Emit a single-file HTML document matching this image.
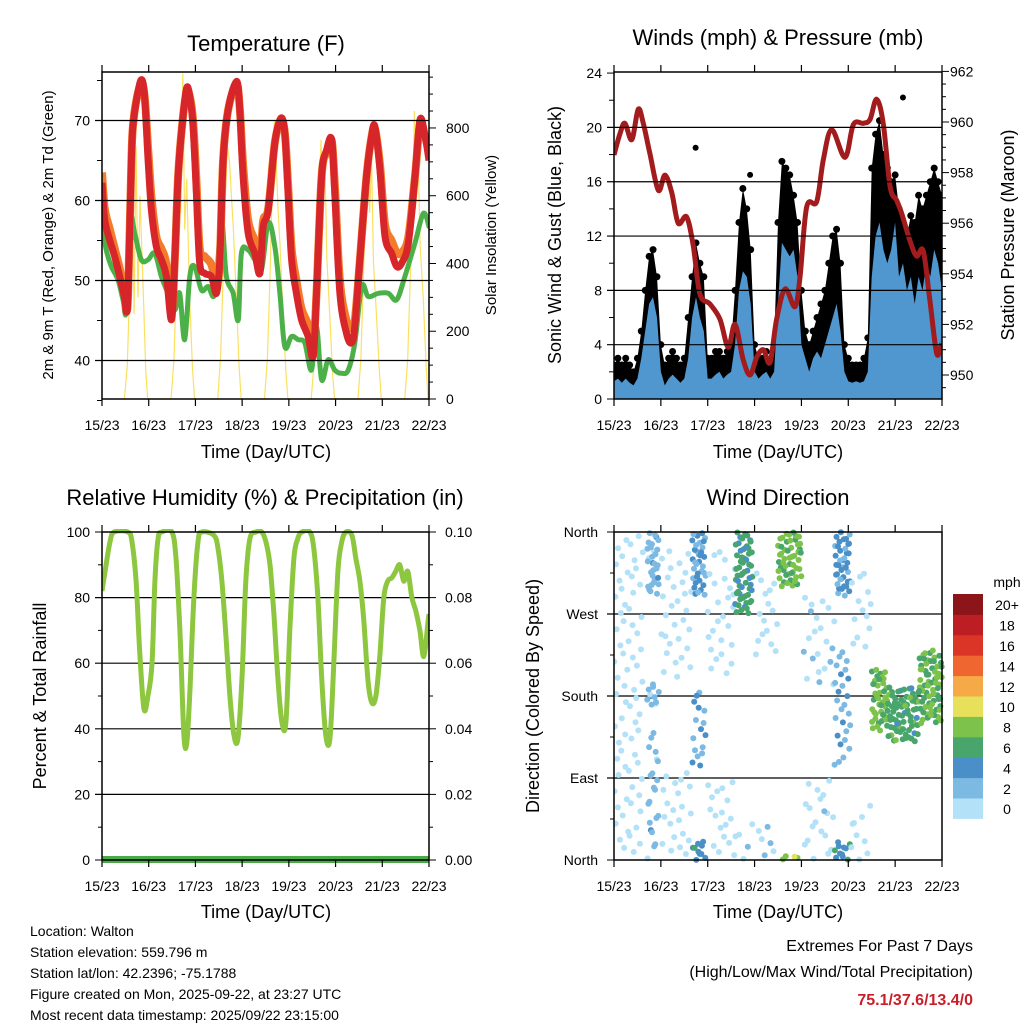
<!DOCTYPE html>
<html><head><meta charset="utf-8">
<style>
html,body{margin:0;padding:0;background:#fff;}
svg{display:block;font-family:"Liberation Sans",Arial,sans-serif;}
</style></head>
<body>
<svg id="chart" width="1024" height="1024" viewBox="0 0 1024 1024" xmlns="http://www.w3.org/2000/svg">
<rect width="1024" height="1024" fill="#fff"/>
<g id="g1"></g>
<g id="g2"></g>
<g id="g3"></g>
<g id="g4"></g>
<g id="gt">
<text x="266" y="51" font-size="22" text-anchor="middle">Temperature (F)</text>
<text transform="translate(53,235) rotate(-90)" font-size="15" text-anchor="middle">2m &amp; 9m T (Red, Orange) &amp; 2m Td (Green)</text>
<text transform="translate(496,235) rotate(-90)" font-size="15" text-anchor="middle">Solar Insolation (Yellow)</text>
<text x="266" y="458" font-size="18" text-anchor="middle">Time (Day/UTC)</text>
<text x="778" y="45" font-size="22" text-anchor="middle">Winds (mph) &amp; Pressure (mb)</text>
<text transform="translate(561,235) rotate(-90)" font-size="18" text-anchor="middle">Sonic Wind &amp; Gust (Blue, Black)</text>
<text transform="translate(1014,235) rotate(-90)" font-size="18" text-anchor="middle">Station Pressure (Maroon)</text>
<text x="778" y="458" font-size="18" text-anchor="middle">Time (Day/UTC)</text>
<text x="265" y="505" font-size="22" text-anchor="middle">Relative Humidity (%) &amp; Precipitation (in)</text>
<text transform="translate(46,696) rotate(-90)" font-size="18" text-anchor="middle">Percent &amp; Total Rainfall</text>
<text x="266" y="918" font-size="18" text-anchor="middle">Time (Day/UTC)</text>
<text x="778" y="505" font-size="22" text-anchor="middle">Wind Direction</text>
<text transform="translate(539,696) rotate(-90)" font-size="18" text-anchor="middle">Direction (Colored By Speed)</text>
<text x="778" y="918" font-size="18" text-anchor="middle">Time (Day/UTC)</text>
<text x="1007" y="587" font-size="14" text-anchor="middle">mph</text>
<g font-size="14">
<text x="30" y="936">Location: Walton</text>
<text x="30" y="957">Station elevation: 559.796 m</text>
<text x="30" y="978">Station lat/lon: 42.2396; -75.1788</text>
<text x="30" y="999">Figure created on Mon, 2025-09-22, at 23:27 UTC</text>
<text x="30" y="1020">Most recent data timestamp: 2025/09/22 23:15:00</text>
</g>
<text x="973" y="951" font-size="16" text-anchor="end">Extremes For Past 7 Days</text>
<text x="973" y="977" font-size="16" text-anchor="end">(High/Low/Max Wind/Total Precipitation)</text>
<text x="973" y="1005" font-size="16" font-weight="bold" fill="#c8202a" text-anchor="end">75.1/37.6/13.4/0</text>
</g>
</svg>
<script>
// ---------- DATA ----------
const dayLabels = ["15/23","16/23","17/23","18/23","19/23","20/23","21/23","22/23"];
const tempHours = [0,1.4,3.9,6.5,9.1,11.7,12.5,13.4,15.1,15.9,17.7,20.2,21.9,23.7,25.4,27.9,30.5,33.1,35.7,37.4,39.1,41.1,43.4,45.1,46.8,48.5,50.2,52.8,56.2,58.8,60.5,62.2,64.8,69.1,70.8,72.5,75.1,78.5,81.1,82.8,85.4,88.8,91.9,93.9,95.6,97.4,99.9,102.5,105.9,108.5,110.2,112.8,115.4,118,119.6,122.2,125.6,128.2,129.9,132.5,135.9,138.5,140.2,142.8,145.4,148.8,151.4,154,157.4,160.8,163.4,166,168];
const temp2m = [62.2,57.6,55.1,53,50.5,47.6,46.1,48.4,65,69.25,72.6,75.1,73,65,58.8,54.25,52.6,50.5,45.1,52.6,63,69.25,74,73,69.25,60.9,52.2,50.9,50.5,48.4,52.6,65,71.3,74.9,71.3,63,55.9,53.4,50.9,56.75,58.8,67.2,70.3,68.4,60.9,52.6,48.4,45.1,43,40.5,48.4,63,66.3,67.6,60.9,48.4,43.4,42.2,44.25,52.6,63,68,69.25,63.8,55.5,53.4,51.75,52.2,54.7,63,70.1,68,65];
const temp9m = [63.5,59,56.5,54,51.5,48,46.5,48.4,65,69.25,72.6,74.5,73,66.5,60.5,55.5,54,52,46,52.6,63,69.25,73.5,73,70,62.5,54,53,52,49.5,52.6,65,71.3,74.5,71.5,64.5,57.5,55,52.5,57.5,59,67.2,70,68.5,62,54,50,46.5,44.5,42,48.4,63,66,67.5,62,50,45,44,45,52.6,63,68,69,64.5,57,55,53.5,53.5,55.5,63,69.5,68,66];
const dewHours = [0,2.2,4.8,8.2,10.8,12.5,14.2,16.8,20.2,23.7,27.1,30.5,33.9,37.4,39.9,42.5,45.1,47.6,51.1,54.5,58,61.4,63.9,67.4,70,71.6,75.1,78.5,81.9,85.4,88.8,91.4,93.9,97.4,100.8,104.2,107.6,110.2,112.8,116.2,119.6,123.1,126.5,129.9,133.4,136.8,142,147.1,151.4,155.6,160.8,165.1,168];
const dewpoint = [56.75,53.8,51.75,50.1,47.6,46.3,58,55.9,52.6,52.6,53.4,50.5,48.4,46.3,48.4,42.6,50.5,51.75,48.8,49.25,48.4,57.2,50.5,48.4,45.1,53.4,53.8,52.6,51.3,57.2,54.25,48.4,41.75,43,42.6,42.2,38.8,44.25,37.6,40.1,38.8,38.4,38.8,42.2,49.25,48,48.4,48.4,47.6,50.5,54.7,58.4,56.75];
const solarHours = [11.5,13,14.5,15.5,16.5,17.5,18.5,19.5,21,22.5,23.5, 35.5,37,38.5,39.5,40.5,41.5,42.5,43.5,45,46.5,47.5, 59.5,61,62.5,63.5,64.5,65.5,66.5,67.5,69,70.5,71.5, 83.5,85,86.5,87.5,88.5,89.5,90.5,91.5,93,94.5,95.5, 107.5,109,110.5,111.5,112.5,113.5,114.5,115.5,117,118.5,119.5, 131.5,133,134.5,135.5,136.5,137.5,138.5,139.5,141,142.5,143.5, 155.5,157,158.5,159.5,160.5,161.5,162.5,163.5,165,166.5,167.5];
const solar = [0,100,380,650,250,745,300,600,350,80,0, 0,120,400,600,550,960,500,650,300,90,0, 0,130,420,620,745,700,600,500,300,90,0, 0,120,400,650,823,700,550,450,250,80,0, 0,110,380,600,765,500,700,420,250,70,0, 0,120,400,620,765,550,700,400,250,80,0, 0,110,380,560,850,587,700,450,300,100,0];

const windHours = [0,2,4,6,8,10,12,14,16,18,20,22,24,26,28,30,32,34,36,38,40,42,44,46,48,50,52,54,56,58,60,62,64,66,68,70,72,74,76,78,80,82,84,86,88,90,92,94,96,98,100,102,104,106,108,110,112,114,116,118,120,122,124,126,128,130,132,134,136,138,140,142,144,146,148,150,152,154,156,158,160,162,164,166,168];
const windMean = [1.3,1.5,1.2,1.5,1.2,1.0,1.5,3,5,7,7.5,6,2,1.0,1.5,1.8,1.5,1.2,1.5,3,6,7.5,6,5,1.5,1.5,1.8,2,1.5,1.8,2,4,8,9.4,9,7,2,1.5,1.8,2,1.5,2,7,11.5,11,10.5,11,9,4,3,2,3,3.5,3,4,5,6,7,5,2,1.3,1.2,1.3,1.2,1.3,2,9,12,13,11,10,11,13,9,10,8,9,7,9,8,10,9,11,10,8];
const windGust = [2.5,3,2.5,3,2.5,2,3,5,8,10.5,11,9,4,2.5,3,3.5,3,2.5,3,6,9,11.5,10,9,3,3,3.5,3.5,3,3.5,4,8,13,15.5,14,11,4,3,3,3.5,2.5,4,13,17.5,17,16.5,15,13,8,5,4,5,6,7,8,10,12,12.5,10,4,3,2.5,2.5,2.5,3,4.5,17,19.5,20.5,18,17,16,16.5,14,13,12,13.5,13,15,14,15,16,17,16,15];
const gustOutlierHours = [41.8,69.7,148];
const gustOutlierValues = [18.5,16.5,22.2];
const pressHours = [0,3.1,5.6,9.1,12.4,15,18.4,22.7,26.1,29.6,32.9,37.2,40.6,44,49.2,54.3,58.5,62,66.2,69.7,73.1,76.5,79.9,83.3,87.6,92.7,95.3,98.7,103.8,107.2,111.5,118.3,122.6,127.7,131.1,134.5,137.9,141.4,144.8,147.3,151.6,155,158.4,161.8,165.3,167.8];
const pressure = [958.7,959.55,959.95,959.3,960.5,959.95,958.75,957.3,957.9,957.2,956,956.25,955.1,953.2,952.8,952.2,951.1,952,950.6,950,950.7,951,950.5,952.2,953.4,952.7,953.9,956.65,956.85,958.5,959.7,958.6,959.9,959.95,960.1,960.9,959.95,957.45,956.9,956.4,955.3,954.7,954.9,952.95,950.85,951.25];

const rhHours = [0,2.1,4.1,6.2,13.3,15.4,17.5,19.5,21.6,23.6,25.7,27.2,28.8,30.8,35.9,38,40,42.1,43.6,45.2,47.2,49.3,51.3,57.5,59.6,61.6,63.7,65.7,67.8,69.8,71.9,73.9,76,79.1,82.1,84.2,86.3,88.3,90.4,92.4,94.5,96.5,98.6,100.6,102.7,106.8,108.8,110.9,112.9,115,117.1,119.1,121.2,123.2,125.3,128.4,130.4,132.5,134.5,136.6,138.6,140.7,142.7,144.8,146.8,148.9,150.9,153,155,157.1,159.2,161.2,163.3,165.3,167.4,168];
const rh = [82,90,97,100,100,97,85,62,46,50,60,85,98,100,100,92,70,38,36,52,80,97,100,99,95,85,68,50,38,37,55,85,98,100,100,97,90,75,55,42,42,70,92,98,100,100,95,80,55,38,37,60,88,97,100,99,92,85,73,55,48,50,62,80,85,86,88,90,85,88,80,76,70,62,72,75];
const precipHours = [0,168];
const precip = [0,0];

const dirClusterStart = [0,17,17,17,24,24,40,40,40,48,48,62,62,72,72,84,84,97,97,113,113,113,121,121,132,140,156];
const dirClusterEnd   = [15,23,23,23,40,40,47,47,47,62,62,71,71,84,84,96,96,113,113,121,121,121,132,132,140,156,168];
const dirClusterLow   = [0,0,290,170,200,0,290,100,0,200,0,270,0,220,0,300,0,190,0,290,100,0,230,0,140,130,150];
const dirClusterHigh  = [360,140,360,195,340,100,360,190,20,340,90,360,40,320,40,360,5,290,90,360,230,20,320,60,210,190,230];
const dirClusterSpeed = [0.5,3,3,3,0.8,0.8,4,4,5,0.8,0.8,6.5,1,1,1.5,8.5,9.5,1.5,1,4.5,3.5,5.5,0.8,0.8,8.5,7,8];
const speedBins = ["0","2","4","6","8","10","12","14","16","18","20+"];
const speedColors = ["#b3e1f7","#7cb9e3","#4a8fc7","#48a56c","#7dc24a","#e6e05a","#f6aa47","#ef6630","#db3528","#bc1e24","#8c1519"];

const tempTicks = [40,50,60,70], solarTicks = [0,200,400,600,800];
const windTicks = [0,4,8,12,16,20,24], pressTicks = [950,952,954,956,958,960,962];
const rhTicks = [0,20,40,60,80,100], precipTicks = ["0.00","0.02","0.04","0.06","0.08","0.10"];
const dirTicks = [0,90,180,270,360], dirLabels = ["North","East","South","West","North"];

// ---------- helpers ----------
const NS = "http://www.w3.org/2000/svg";
function mk(parent, tag, attrs){ const e=document.createElementNS(NS,tag); for(const k in attrs) e.setAttribute(k,attrs[k]); parent.appendChild(e); return e; }
function txt(parent, x, y, s, anchor, size){ const e=mk(parent,"text",{x:x,y:y,"text-anchor":anchor,"font-size":size||14}); e.textContent=s; return e; }
function pathFrom(xs, ys){ let d=""; for(let i=0;i<xs.length;i++) d+=(i?"L":"M")+xs[i].toFixed(1)+","+ys[i].toFixed(1); return d; }
function smoothFrom(xs, ys){
  let d="M"+xs[0].toFixed(1)+","+ys[0].toFixed(1);
  for(let i=0;i<xs.length-1;i++){
    const x0=xs[Math.max(0,i-1)],y0=ys[Math.max(0,i-1)],x1=xs[i],y1=ys[i],x2=xs[i+1],y2=ys[i+1],x3=xs[Math.min(xs.length-1,i+2)],y3=ys[Math.min(xs.length-1,i+2)];
    const c1x=x1+(x2-x0)/6,c1y=y1+(y2-y0)/6,c2x=x2-(x3-x1)/6,c2y=y2-(y3-y1)/6;
    d+="C"+c1x.toFixed(1)+","+c1y.toFixed(1)+" "+c2x.toFixed(1)+","+c2y.toFixed(1)+" "+x2.toFixed(1)+","+y2.toFixed(1);
  }
  return d;
}
function halton(i,b){ let f=1,r=0; while(i>0){ f/=b; r+=f*(i%b); i=Math.floor(i/b);} return r; }

function frame(g, x0, x1, y0, y1, name){
  const b = mk(g,"rect",{x:x0,y:y0,width:x1-x0,height:y1-y0,fill:"none",stroke:"#000","stroke-width":1.5});
  
  
  for(let d=0; d<8; d++){
    const x = x0 + d*(x1-x0)/7;
    mk(g,"line",{x1:x,x2:x,y1:y1,y2:y1+7,stroke:"#000","stroke-width":1.2});
    mk(g,"line",{x1:x,x2:x,y1:y0,y2:y0-7,stroke:"#000","stroke-width":1.2});
    const t = txt(g, x, y1+31, dayLabels[d], "middle", 14);
    
    
  }
}
function hline(g, x0, x1, y){ mk(g,"line",{x1:x0-7,x2:x1,y1:y,y2:y,stroke:"#000","stroke-width":1.2}); }
function tickL(g,x,y,len){ mk(g,"line",{x1:x-len,x2:x,y1:y,y2:y,stroke:"#000","stroke-width":1}); }
function tickR(g,x,y,len){ mk(g,"line",{x1:x,x2:x+len,y1:y,y2:y,stroke:"#000","stroke-width":1}); }

// ---------- Panel 1: Temperature ----------
(function(){
  const g=document.getElementById("g1");
  const X0=102,X1=429,Y0=72,Y1=399;
  const sx=h=>X0+h*(X1-X0)/168;
  const ty=v=>360.5-(v-40)*8;
  const syR=v=>399-v*0.3388;
  const clip=mk(g,"clipPath",{id:"c1"}); mk(clip,"rect",{x:X0,y:Y0,width:X1-X0,height:Y1-Y0});
  const inner=mk(g,"g",{"clip-path":"url(#c1)"});
  tempTicks.forEach(v=>hline(g,X0,X1,ty(v)));
  const sol=mk(inner,"path",{d:pathFrom(solarHours.map(sx),solar.map(syR)),fill:"none",stroke:"#fbe060","stroke-width":1.2});
  
  
  const dw=mk(inner,"path",{d:smoothFrom(dewHours.map(sx),dewpoint.map(ty)),fill:"none",stroke:"#4cb048","stroke-width":5,"stroke-linejoin":"round","stroke-linecap":"round"});
  
  
  const o=mk(inner,"path",{d:smoothFrom(tempHours.map(sx),temp9m.map(ty)),fill:"none",stroke:"#f47b2a","stroke-width":8,"stroke-linejoin":"round"});
  
  
  const r=mk(inner,"path",{d:smoothFrom(tempHours.map(sx),temp2m.map(ty)),fill:"none",stroke:"#d7262a","stroke-width":7,"stroke-linejoin":"round"});
  
  
  tempTicks.forEach(v=>{ const t=txt(g,X0-12,ty(v)+5,String(v),"end",14);   });
  for(let v=35;v<=76;v+=5) if(v%10) tickL(g,X0,ty(v),5);
  for(let v=0;v<=950;v+=50) tickR(g,X1,syR(v),v%200?4:7);
  solarTicks.forEach(v=>{ const t=txt(g,X1+17,syR(v)+5,String(v),"start",14);   });
  frame(g,X0,X1,Y0,Y1,"temperature");
})();

// ---------- Panel 2: Winds ----------
(function(){
  const g=document.getElementById("g2");
  const X0=614,X1=942,Y0=72,Y1=399;
  const sx=h=>X0+h*(X1-X0)/168;
  const wy=v=>399-v*13.58;
  const py=v=>375-(v-950)*25.3;
  const clip=mk(g,"clipPath",{id:"c2"}); mk(clip,"rect",{x:X0,y:Y0,width:X1-X0,height:Y1-Y0});
  const inner=mk(g,"g",{"clip-path":"url(#c2)"});
  windTicks.slice(1,6).forEach(v=>hline(g,X0,X1,wy(v)));
  const gx=windHours.map(sx), gy=windGust.map(wy);
  const gpoly=mk(inner,"path",{d:"M"+gx[0]+","+wy(0.3)+pathFrom(gx,gy).replace("M","L")+"L"+gx[gx.length-1]+","+wy(0.3)+"Z",fill:"#000"});
  
  
  windHours.forEach((h,i)=>{ const c=mk(inner,"circle",{cx:sx(h),cy:wy(windGust[i]),r:3.5,fill:"#000"});   });
  gustOutlierHours.forEach((h,i)=>{ const c=mk(inner,"circle",{cx:sx(h),cy:wy(gustOutlierValues[i]),r:3,fill:"#000"});   });
  const by=windMean.map(wy);
  const bpoly=mk(inner,"path",{d:"M"+gx[0]+","+wy(0)+pathFrom(gx,by).replace("M","L")+"L"+gx[gx.length-1]+","+wy(0)+"Z",fill:"#5096cf"});
  
  
  const p=mk(inner,"path",{d:smoothFrom(pressHours.map(sx),pressure.map(py)),fill:"none",stroke:"#a21c1e","stroke-width":5,"stroke-linejoin":"round"});
  
  
  for(let v=2;v<24;v+=4) tickL(g,X0,wy(v),5);
  windTicks.forEach(v=>{ if(v===0||v===24) tickL(g,X0,wy(v),7); const t=txt(g,X0-12,wy(v)+5,String(v),"end",14);   });
  for(let v=949.5;v<=962;v+=0.5) tickR(g,X1,py(v),(v%2===0)?7:4);
  pressTicks.forEach(v=>{ const t=txt(g,X1+8,py(v)+5,String(v),"start",14);   });
  frame(g,X0,X1,Y0,Y1,"winds");
})();

// ---------- Panel 3: RH ----------
(function(){
  const g=document.getElementById("g3");
  const X0=102,X1=429,Y0=532,Y1=860;
  const sx=h=>X0+h*(X1-X0)/168;
  const ry=v=>860-v*3.28;
  const py=v=>860-v*3280;
  rhTicks.slice(1,5).forEach(v=>hline(g,X0,X1,ry(v)));
  const clip=mk(g,"clipPath",{id:"c3"}); mk(clip,"rect",{x:X0,y:Y0-3,width:X1-X0,height:Y1-Y0+6});
  const inner=mk(g,"g",{"clip-path":"url(#c3)"});
  const l=mk(inner,"path",{d:smoothFrom(rhHours.map(sx),rh.map(ry)),fill:"none",stroke:"#8dc63f","stroke-width":5,"stroke-linejoin":"round"});
  
  
  const pr=mk(inner,"path",{d:pathFrom(precipHours.map(sx),precip.map(py)),fill:"none",stroke:"#4aaa4a","stroke-width":8});
  
  
  for(let v=10;v<100;v+=20) tickL(g,X0,ry(v),4);
  rhTicks.forEach((v,i)=>{ if(v===0||v===100) tickL(g,X0,ry(v),7); tickR(g,X1,ry(v),7); if(v<100) tickR(g,X1,ry(v+10),4);
    const t=txt(g,X0-12,ry(v)+5,String(v),"end",14);  
    const t2=txt(g,X1+16,ry(v)+5,precipTicks[i],"start",14);   });
  frame(g,X0,X1,Y0,Y1,"humidity");
})();

// ---------- Panel 4: Wind Direction ----------
(function(){
  const g=document.getElementById("g4");
  const X0=614,X1=942,Y0=532,Y1=860;
  const sx=h=>X0+h*(X1-X0)/168;
  const dy=d=>860-d*0.9111;
  dirTicks.slice(1,4).forEach(v=>hline(g,X0,X1,dy(v)));
  const clip=mk(g,"clipPath",{id:"c4"}); mk(clip,"rect",{x:X0,y:Y0-4,width:X1-X0+4,height:Y1-Y0+8});
  const inner=mk(g,"g",{"clip-path":"url(#c4)"});
  let k=1;
  dirClusterStart.forEach((h0,i)=>{
    const xa=sx(h0), xb=sx(dirClusterEnd[i]), ya=dy(dirClusterHigh[i]), yb=dy(dirClusterLow[i]);
    const spd=dirClusterSpeed[i];
    const span=dirClusterHigh[i]-dirClusterLow[i];
    const dens = spd<2 ? 0.0075 : (span>80 && spd<6 ? 0.014 : 0.04);
    const n = Math.max(3, Math.round((xb-xa)*(yb-ya)*dens));
    for(let j=0;j<n;j++,k++){
      const s = spd + (halton(k,5)-0.5)*2.4;
      const ci = Math.max(0,Math.min(10,Math.floor(s/2)));
      const c=mk(inner,"circle",{cx:(xa+halton(k,2)*(xb-xa)).toFixed(1),cy:(ya+halton(k,3)*(yb-ya)).toFixed(1),r:3,fill:speedColors[ci]});
      
      
    }
  });
  for(let d=45;d<360;d+=90) tickL(g,X0,dy(d),4);
  dirTicks.forEach((v,i)=>{ tickL(g,X0,dy(v),7); const t=txt(g,X0-16,dy(v)+5,dirLabels[i],"end",14);   });
  frame(g,X0,X1,Y0,Y1,"direction");
  const CB=mk(g,"g",{});
  
  
  const top=594, bh=20.4;
  speedBins.forEach((lab,i)=>{
    const y = top + (10-i)*bh;
    const r=mk(CB,"rect",{x:953,y:y,width:30,height:bh+0.5,fill:speedColors[i]});
    
    
    const t=txt(CB,1007,y+bh/2+6,lab,"middle",14);
    
    
  });
})();
</script>
</body></html>
